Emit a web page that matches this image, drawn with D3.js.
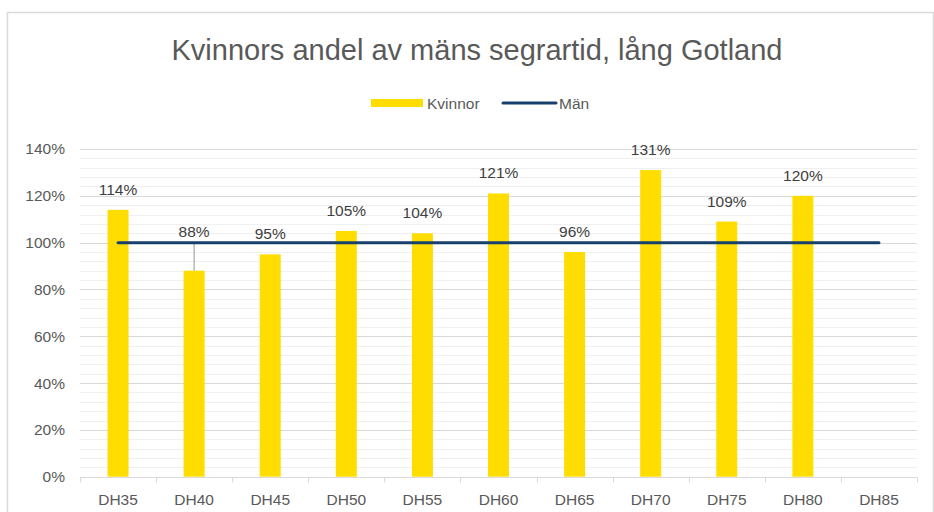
<!doctype html>
<html>
<head>
<meta charset="utf-8">
<script type='text/javascript' src='https://d3js.org/d3.v7.min.js'></script>
<style>
body { margin: 0; background: #fff; }
text { font-family: 'Liberation Sans', Arial, sans-serif; }
</style>
</head>
<body>
<script>
var width = 934, height = 512;

// data
var categories = ['DH35','DH40','DH45','DH50','DH55','DH60','DH65','DH70','DH75','DH80','DH85'];
var kvinnor = [1.14, 0.88, 0.95, 1.05, 1.04, 1.21, 0.96, 1.31, 1.09, 1.20, null];
var man = [1, 1, 1, 1, 1, 1, 1, 1, 1, 1, 1];
var yTicks = [0, 0.2, 0.4, 0.6, 0.8, 1.0, 1.2, 1.4];
var title = 'Kvinnors andel av mäns segrartid, lång Gotland';

var svg = d3.select('body').append('svg').attr('width', width).attr('height', height);

// chart border
svg.append('rect').attr('x', 7.5).attr('y', 12.5).attr('width', 926).attr('height', 520)
 .attr('fill', '#fff').attr('stroke', '#d9d9d9').attr('stroke-width', 1.5);

var x = d3.scaleBand().domain(categories).range([80, 917]);
var y = d3.scaleLinear().domain([0, 1.4]).range([476.7, 149]);

// minor gridlines every 4%
var minor = d3.range(0, 1.401, 0.04).filter(function(v) { return Math.abs(v * 5 - Math.round(v * 5)) > 1e-6; });
svg.append('g').selectAll('line').data(minor).join('line')
 .attr('x1', 80).attr('x2', 917)
 .attr('y1', function(d) { return Math.round(y(d)) + 0.5; })
 .attr('y2', function(d) { return Math.round(y(d)) + 0.5; })
 .attr('stroke', '#f0f0f0').attr('stroke-width', 1);

// major gridlines
svg.append('g').selectAll('line').data(yTicks.slice(1)).join('line')
 .attr('x1', 80).attr('x2', 917)
 .attr('y1', function(d) { return Math.round(y(d)) + 0.5; })
 .attr('y2', function(d) { return Math.round(y(d)) + 0.5; })
 .attr('stroke', '#d9d9d9').attr('stroke-width', 1);

// y axis labels
var yAxis = d3.axisLeft(y).tickValues(yTicks).tickSize(0).tickPadding(15)
 .tickFormat(function(d) { return Math.round(d * 100) + '%'; });
var gy = svg.append('g').attr('transform', 'translate(80,0)').call(yAxis);
gy.select('.domain').remove();
gy.selectAll('text').attr('fill', '#595959').style('font-size', '15.5px')
 .style('font-family', "'Liberation Sans', Arial, sans-serif");

// x axis
var xAxis = d3.axisBottom(x).tickSize(0).tickPadding(16);
var gx = svg.append('g').attr('transform', 'translate(0,' + (Math.round(y(0)) + 0.5) + ')').call(xAxis);
gx.select('.domain').attr('stroke', '#d9d9d9').attr('d', 'M80,0H917');
gx.selectAll('text').attr('fill', '#595959').style('font-size', '15.5px')
 .style('font-family', "'Liberation Sans', Arial, sans-serif");
var bounds = categories.map(function(c) { return x(c); }).concat([917]);
gx.append('g').selectAll('line').data(bounds).join('line')
 .attr('x1', function(d) { return Math.round(d) + 0.5; })
 .attr('x2', function(d) { return Math.round(d) + 0.5; })
 .attr('y1', 0).attr('y2', 5).attr('stroke', '#d9d9d9');

// bars
var barW = 21;
var bars = categories.map(function(c, i) { return {cat: c, v: kvinnor[i]}; }).filter(function(d) { return d.v != null; });
svg.append('g').selectAll('rect').data(bars).join('rect')
 .attr('x', function(d) { return x(d.cat) + x.bandwidth() / 2 - barW / 2; })
 .attr('y', function(d) { return y(d.v); })
 .attr('width', barW)
 .attr('height', function(d) { return y(0) - y(d.v); })
 .attr('fill', '#ffdd00');

// leader line for the moved label
var moved = 'DH40';
bars.forEach(function(d) {
 if (d.cat === moved) {
  svg.append('line')
   .attr('x1', x(d.cat) + x.bandwidth() / 2).attr('x2', x(d.cat) + x.bandwidth() / 2)
   .attr('y1', y(1) + 1).attr('y2', y(d.v))
   .attr('stroke', '#a6a6a6').attr('stroke-width', 1.2);
 }
});

// men line
var line = d3.line()
 .x(function(d, i) { return x(categories[i]) + x.bandwidth() / 2; })
 .y(function(d) { return y(d); });
svg.append('path').datum(man).attr('d', line)
 .attr('fill', 'none').attr('stroke', '#17406d').attr('stroke-width', 3).attr('stroke-linecap', 'round');

// data labels
svg.append('g').selectAll('text').data(bars).join('text')
 .attr('x', function(d) { return x(d.cat) + x.bandwidth() / 2; })
 .attr('y', function(d) { return d.cat === moved ? y(1) - 6 : y(d.v) - 15; })
 .attr('text-anchor', 'middle')
 .attr('fill', '#404040').style('font-size', '15.5px')
 .text(function(d) { return Math.round(d.v * 100) + '%'; });

// title
svg.append('text').attr('x', 477).attr('y', 60).attr('text-anchor', 'middle')
 .attr('fill', '#595959').style('font-size', '29px').text(title);

// legend
var lg = svg.append('g');
lg.append('rect').attr('x', 371).attr('y', 99).attr('width', 52).attr('height', 8).attr('fill', '#ffdd00');
lg.append('text').attr('x', 427).attr('y', 108.5).attr('fill', '#595959').style('font-size', '15.5px').text('Kvinnor');
lg.append('line').attr('x1', 503).attr('x2', 556).attr('y1', 103).attr('y2', 103)
 .attr('stroke', '#17406d').attr('stroke-width', 3).attr('stroke-linecap', 'round');
lg.append('text').attr('x', 559).attr('y', 108.5).attr('fill', '#595959').style('font-size', '15.5px').text('Män');
</script>
</body>
</html>
